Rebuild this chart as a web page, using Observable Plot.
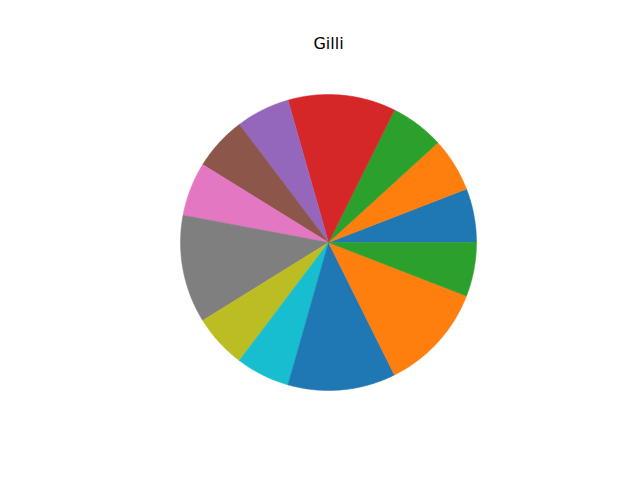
<!DOCTYPE html>
<html><head><meta charset="utf-8">
<script src="https://cdn.jsdelivr.net/npm/d3@7"></script>
<script src="https://cdn.jsdelivr.net/npm/@observablehq/plot@0.6"></script>
<style>body{margin:0;background:#fff;overflow:hidden}</style>
</head><body><div id="chart"></div>
<script>
const title = "Gilli";
const categories = ["S1","S2","S3","S4","S5","S6","S7","S8","S9","S10","S11","S12","S13"];
const values = [1,1,1,2,1,1,1,2,1,1,2,2,1];
const colors = ["#1f77b4","#ff7f0e","#2ca02c","#d62728","#9467bd","#8c564b","#e377c2","#7f7f7f","#bcbd22","#17becf","#1f77b4","#ff7f0e","#2ca02c"];

// Build wedge outlines (start at 3 o'clock, counterclockwise, like matplotlib)
const total = d3.sum(values);
const ends = Array.from(d3.cumsum(values));
const pts = [];
categories.forEach((c, i) => {
  const t0 = 2 * Math.PI * (i === 0 ? 0 : ends[i - 1]) / total;
  const t1 = 2 * Math.PI * ends[i] / total;
  const n = Math.max(2, Math.ceil((t1 - t0) / (Math.PI / 360)) + 1);
  pts.push({cat: c, x: 0, y: 0});
  for (let k = 0; k < n; k++) {
    const t = t0 + (t1 - t0) * k / (n - 1);
    pts.push({cat: c, x: Math.cos(t), y: Math.sin(t)});
  }
  pts.push({cat: c, x: 0, y: 0});
});

const chart = Plot.plot({
  width: 640, height: 480,
  marginLeft: 180, marginRight: 164, marginTop: 94, marginBottom: 90,
  x: {domain: [-1, 1], axis: null},
  y: {domain: [-1, 1], axis: null},
  color: {domain: categories, range: colors},
  style: {fontFamily: "DejaVu Sans", background: "white"},
  marks: [
    Plot.line(pts, {x: "x", y: "y", z: "cat", fill: "cat", stroke: "cat", strokeWidth: 0.5, curve: "linear"}),
    Plot.text([title], {frameAnchor: "top", lineAnchor: "middle", dy: -51, text: d => d, fontSize: 16, fill: "black"})
  ]
});
document.getElementById("chart").appendChild(chart);
</script>
</body></html>
